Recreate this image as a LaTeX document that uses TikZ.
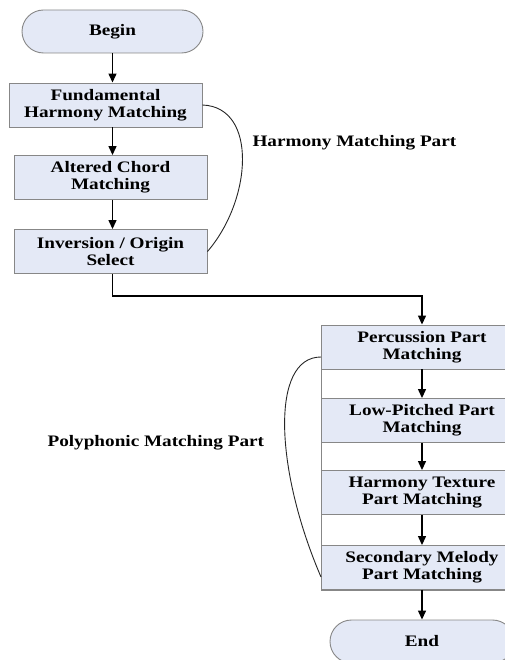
\documentclass[tikz,border=0pt]{standalone}
\usepackage{fontspec}
\setmainfont{Liberation Serif}[FakeStretch=1.2]
\usepackage{tikz}
\usetikzlibrary{shapes,arrows.meta,positioning,calc}
\usepackage{xcolor}
\definecolor{boxfill}{RGB}{228,233,246}
\definecolor{boxline}{RGB}{135,135,135}
\tikzset{
    stagebox/.style={
        rectangle,
        draw=boxline,
        fill=boxfill,
        line width=0.9pt,
        inner sep=0pt,
        align=center,
        font=\fontsize{16}{17}\selectfont\bfseries
    },
    leftbox/.style={
        stagebox,
        minimum width=193pt,
        minimum height=44pt
    },
    rightbox/.style={
        stagebox,
        minimum width=202pt,
        minimum height=44pt
    },
    terminal/.style={
        stagebox,
        rounded rectangle,
        minimum height=43pt
    },
    flow/.style={
        -{Triangle[length=9pt,width=8pt]},
        line width=1.3pt,
        black
    },
    brace/.style={
        line width=0.9pt,
        black!85
    },
    partlabel/.style={
        font=\fontsize{16}{17}\selectfont\bfseries
    }
}

\begin{document}
\begin{tikzpicture}[x=1pt,y=-1pt]
    \useasboundingbox (0,0) rectangle (504,660);

    % Harmony matching part
    \node[terminal, minimum width=181pt] (begin) at (112.5,31.5) {Begin};
    \node[leftbox] (fund) at (105.5,105) {Fundamental\\Harmony Matching};
    \node[leftbox] (altered) at (110.5,177.5) {Altered Chord\\Matching};
    \node[leftbox] (inversion) at (110.5,251.5) {Inversion / Origin\\Select};

    \draw[flow] (begin.south) -- (begin.south |- fund.north);
    \draw[flow] (begin.south |- fund.south) -- (begin.south |- altered.north);
    \draw[flow] (begin.south |- altered.south) -- (begin.south |- inversion.north);

    \draw[brace] (fund.east) .. controls (258,107) and (252,200) .. (inversion.east);
    \node[partlabel, anchor=west] (harmonylabel) at (249,143) {Harmony Matching Part};

    % Polyphonic matching part
    \draw[draw=boxline, line width=0.9pt] (321,325) rectangle (523,590);
    \node[rightbox] (percussion) at (422,347) {Percussion Part\\Matching};
    \node[rightbox] (lowpitched) at (422,420.5) {Low-Pitched Part\\Matching};
    \node[rightbox] (texture) at (422,492.5) {Harmony Texture\\Part Matching};
    \node[rightbox] (secondary) at (422,567.5) {Secondary Melody\\Part Matching};
    \node[terminal, minimum width=184pt] (end) at (422,641.5) {End};

    \coordinate (turn) at (300,296);
    \draw[flow] (begin.south |- inversion.south) |- (turn) -| (percussion.north);
    \draw[flow] (percussion) -- (lowpitched);
    \draw[flow] (lowpitched) -- (texture);
    \draw[flow] (texture) -- (secondary);
    \draw[flow] (secondary) -- (end);

    \draw[brace] (321,357) .. controls (270,357) and (275,470) .. (321,577);
    \node[partlabel, anchor=west] (polylabel) at (44,443) {Polyphonic Matching Part};
\end{tikzpicture}
\end{document}
